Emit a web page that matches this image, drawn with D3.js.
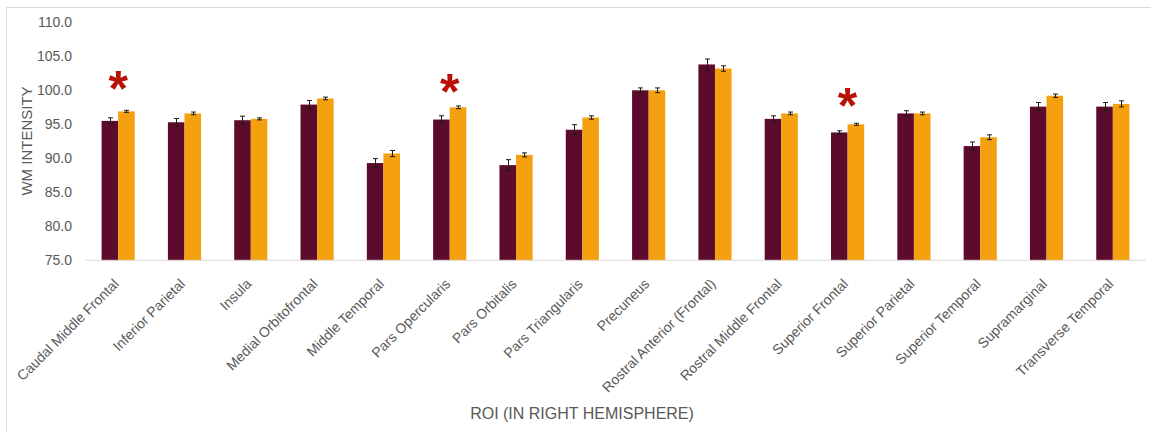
<!DOCTYPE html>
<html>
<head>
<meta charset="utf-8">
<script src="https://cdn.jsdelivr.net/npm/d3@7"></script>
<style>
  html, body { margin: 0; padding: 0; background: #fff; }
  svg { display: block; }
  text { font-family: "Liberation Sans", Arial, sans-serif; fill: #595959; }
</style>
</head>
<body>
<svg id="chart" width="1151" height="432"></svg>
<script>
// Regions of interest (right hemisphere)
const categories = [
  "Caudal Middle Frontal", "Inferior Parietal", "Insula", "Medial Orbitofrontal",
  "Middle Temporal", "Pars Opercularis", "Pars Orbitalis", "Pars Triangularis",
  "Precuneus", "Rostral Anterior (Frontal)", "Rostral Middle Frontal", "Superior Frontal",
  "Superior Parietal", "Superior Temporal", "Supramarginal", "Transverse Temporal"
];

// Mean WM intensity and standard error, first group (dark bars)
const group1Values = [95.5, 95.3, 95.6, 97.9, 89.3, 95.7, 89.0, 94.2, 100.0, 103.8, 95.8, 93.8, 96.6, 91.8, 97.6, 97.6];
const group1Errors = [0.45, 0.55, 0.6, 0.6, 0.65, 0.55, 0.8, 0.75, 0.35, 0.8, 0.45, 0.25, 0.4, 0.6, 0.6, 0.6];

// Mean WM intensity and standard error, second group (orange bars)
const group2Values = [96.9, 96.6, 95.8, 98.8, 90.7, 97.5, 90.5, 96.0, 100.0, 103.2, 96.6, 95.0, 96.6, 93.1, 99.2, 98.0];
const group2Errors = [0.15, 0.2, 0.15, 0.2, 0.45, 0.2, 0.3, 0.25, 0.35, 0.4, 0.2, 0.15, 0.2, 0.35, 0.25, 0.45];

// Significant differences: region and the level at which the marker sits
const significantRegions = ["Caudal Middle Frontal", "Pars Opercularis", "Superior Frontal"];
const markerLevels = [101.4, 100.9, 98.9];

const yTicks = [75, 80, 85, 90, 95, 100, 105, 110];

const series = [
  { key: "g1", values: group1Values, errors: group1Errors, color: "#5c0b2c" },
  { key: "g2", values: group2Values, errors: group2Errors, color: "#f5a00f" }
];

const svg = d3.select("#chart");

// Frame around the chart
svg.append("rect")
  .attr("x", 6.5).attr("y", 7.5)
  .attr("width", 1300).attr("height", 600)
  .attr("fill", "none").attr("stroke", "#d9d9d9").attr("stroke-width", 1);

const plot = { left: 85, right: 1146, top: 22.3, bottom: 260.3 };

const x = d3.scaleBand()
  .domain(categories)
  .range([plot.left, plot.right])
  .paddingInner(0.5)
  .paddingOuter(0.25);

const xSub = d3.scaleBand()
  .domain(series.map(s => s.key))
  .range([0, x.bandwidth()]);

const y = d3.scaleLinear()
  .domain([75, 110])
  .range([plot.bottom, plot.top]);

// Bars
series.forEach(s => {
  svg.append("g")
    .selectAll("rect")
    .data(categories.map((c, i) => ({ c, v: s.values[i] })))
    .join("rect")
    .attr("x", d => x(d.c) + xSub(s.key))
    .attr("y", d => y(d.v))
    .attr("width", xSub.bandwidth())
    .attr("height", d => y(75) - y(d.v))
    .attr("fill", s.color);
});

// Baseline
svg.append("line")
  .attr("x1", plot.left).attr("x2", plot.right)
  .attr("y1", plot.bottom).attr("y2", plot.bottom)
  .attr("stroke", "#d9d9d9").attr("stroke-width", 1);

// Error bars
series.forEach(s => {
  const g = svg.append("g").attr("stroke", "#1a1a1a").attr("stroke-width", 1);
  categories.forEach((c, i) => {
    const cx = Math.round(x(c) + xSub(s.key) + xSub.bandwidth() / 2) + 0.5;
    const hi = y(s.values[i] + s.errors[i]);
    const lo = y(s.values[i] - s.errors[i]);
    g.append("line").attr("x1", cx).attr("x2", cx).attr("y1", hi).attr("y2", lo);
    g.append("line").attr("x1", cx - 2.5).attr("x2", cx + 2.5).attr("y1", hi).attr("y2", hi);
    g.append("line").attr("x1", cx - 2.5).attr("x2", cx + 2.5).attr("y1", lo).attr("y2", lo);
  });
});

// Y axis tick labels
const yAxis = d3.axisLeft(y)
  .tickValues(yTicks)
  .tickFormat(d3.format(".1f"))
  .tickSize(0)
  .tickPadding(0);
const yG = svg.append("g")
  .attr("transform", `translate(72,0)`)
  .call(yAxis);
yG.select(".domain").remove();
yG.selectAll("text")
  .attr("font-size", 14)
  .attr("fill", "#595959")
  .style("font-family", "'Liberation Sans', Arial, sans-serif");

// X axis category labels, rotated
const xAxis = d3.axisBottom(x).tickSize(0).tickPadding(0);
const xG = svg.append("g")
  .attr("transform", `translate(0,${plot.bottom})`)
  .call(xAxis);
xG.select(".domain").remove();
xG.selectAll("text")
  .attr("font-size", 14)
  .attr("fill", "#595959")
  .style("font-family", "'Liberation Sans', Arial, sans-serif")
  .attr("text-anchor", "end")
  .attr("dy", "0.35em")
  .attr("y", 0)
  .attr("transform", "translate(-2,21) rotate(-45)");

// Axis titles
svg.append("text")
  .attr("transform", "translate(32,141) rotate(-90)")
  .attr("text-anchor", "middle")
  .attr("font-size", 15)
  .text("WM INTENSITY");

svg.append("text")
  .attr("x", 582).attr("y", 419)
  .attr("text-anchor", "middle")
  .attr("font-size", 16)
  .text("ROI (IN RIGHT HEMISPHERE)");

// Significance markers
const markerSize = 50;
svg.append("g")
  .selectAll("text")
  .data(significantRegions.map((r, i) => ({ r, v: markerLevels[i] })))
  .join("text")
  .attr("x", d => x(d.r) + x.bandwidth() / 2)
  .attr("y", d => y(d.v) + markerSize * 0.5)
  .attr("text-anchor", "middle")
  .attr("font-size", markerSize)
  .attr("font-weight", "bold")
  .style("fill", "#b81207")
  .text("*");
</script>
</body>
</html>
